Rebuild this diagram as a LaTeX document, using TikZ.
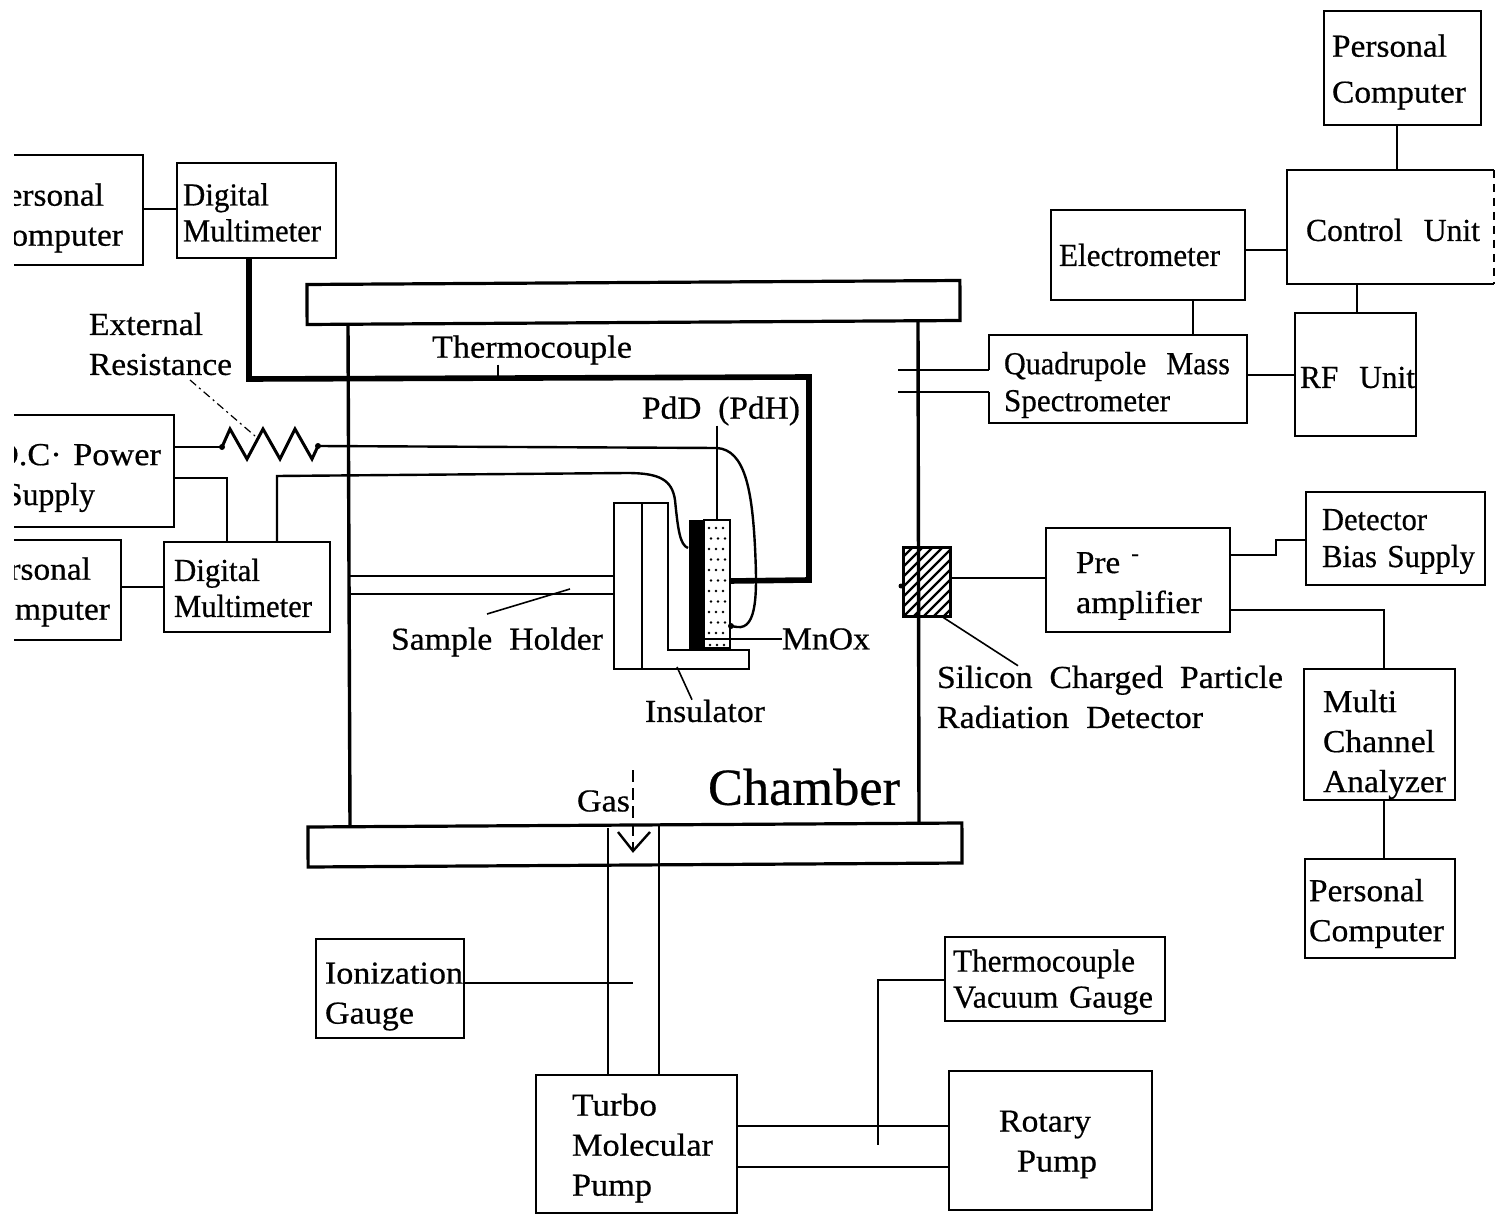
\documentclass[tikz,border=0pt]{standalone}
\usepackage{fontspec}
\usepackage{graphicx}
\setmainfont{Liberation Serif}[FakeBold=0.5]
\newdimen\pxu \pxu=0.5pt
\newcommand\bsh{0pt}
\newcommand\tw[2]{\raisebox{\bsh}[\height][\depth]{\resizebox{#1\pxu}{\height}{#2}}}
\newcommand\bxn[8][]{%
  \pgfmathsetmacro\bxw{#5-#3}\pgfmathsetmacro\bxh{#6-#4}%
  \pgfmathsetmacro\bxcx{(#5+#3)/2}\pgfmathsetmacro\bxcy{(#6+#4)/2}%
  \pgfmathsetmacro\bxtw{\bxw-2*#7}%
  \node[boxn,minimum width=\bxw*0.5pt,minimum height=\bxh*0.5pt,
        text width=\bxtw*0.5pt,inner xsep=#7*0.5pt,#1] (#2) at (\bxcx,\bxcy) {#8};%
}
\tikzset{
  x=0.5pt,y=-0.5pt,
  boxn/.style={draw=black,line width=1.25pt,fill=none,inner ysep=0pt,outer sep=0pt,align=left,
    font=\fontsize{16}{20}\selectfont},
  tsh/.style={execute at begin node={\def\bsh{-#1\pxu}}},
  lab/.style={inner sep=0pt,outer sep=0pt,align=left,font=\fontsize{16}{20}\selectfont},
  wire/.style={draw=black,line width=1.2pt,line join=miter},
  tube/.style={draw=black,line width=1.7pt},
  heavy/.style={draw=black,line width=2.8pt,line join=miter},
  tick/.style={draw=black,line width=0.8pt},
}
\begin{document}
\begin{tikzpicture}
\useasboundingbox (0,0) rectangle (1505,1214);
% clipped boxes at the left edge
\begin{scope}
\clip (14,0) rectangle (1505,1214);
\bxn[tsh=8]{pca}{-20}{155}{143}{265}{9}{\tw{115}{Personal}\\\tw{134}{Computer}}
\bxn[tsh=7]{dcp}{-30}{415}{174}{527}{24}{\tw{167}{D.C{\textperiodcentered} Power}\\\hspace*{11\pxu}\tw{90}{Supply}}
\bxn[tsh=2]{pcb}{-40}{540}{121}{640}{16}{\tw{115}{Personal}\\\tw{134}{Computer}}
\end{scope}
% left instruments
\bxn[tsh=2,font=\fontsize{16}{18}\selectfont]{dma}{177}{163}{336}{258}{6}{\tw{86}{Digital}\\\tw{138}{Multimeter}}
\bxn[tsh=1,font=\fontsize{16}{18}\selectfont]{dmb}{164}{542}{330}{632}{10}{\tw{86}{Digital}\\\tw{138}{Multimeter}}
% right instruments
\bxn[tsh=4,font=\fontsize{16}{23}\selectfont]{pcc}{1324}{11}{1481}{125}{8}{\tw{115}{Personal}\\\tw{134}{Computer}}
\bxn[tsh=3,draw=none]{ctl}{1287}{170}{1494}{284}{19}{\tw{174}{Control\ \ Unit}}
\draw[line width=1.25pt] (ctl.north east) -- (ctl.north west) -- (ctl.south west) -- (ctl.south east);
\draw[line width=0.9pt,dash pattern=on 4pt off 3pt] (ctl.north east) -- (ctl.south east);
\bxn{ele}{1051}{210}{1245}{300}{8}{\tw{161}{Electrometer}}
\bxn[tsh=3]{rfu}{1295}{313}{1416}{436}{5}{\tw{115}{RF\ \ Unit}}
\bxn[tsh=6]{pre}{1046}{528}{1230}{632}{30}{\tw{64}{Pre\ \textsuperscript{-}}\\\tw{126}{amplifier}}
\bxn[tsh=3,font=\fontsize{16}{18.5}\selectfont]{det}{1306}{492}{1485}{585}{16}{\tw{105}{Detector}\\\tw{153}{Bias Supply}}
\bxn[tsh=10]{mca}{1304}{669}{1455}{800}{19}{\tw{74}{Multi}\\\tw{112}{Channel}\\\tw{123}{Analyzer}}
\bxn[tsh=5]{pcd}{1305}{859}{1455}{958}{4}{\tw{115}{Personal}\\\tw{135}{Computer}}
\bxn[tsh=3,font=\fontsize{16}{18}\selectfont]{tvg}{945}{937}{1165}{1021}{8}{\tw{182}{Thermocouple}\\\tw{200}{Vacuum Gauge}}
\bxn[tsh=4]{rot}{949}{1071}{1152}{1210}{50}{\tw{92}{Rotary}\\\hspace*{18\pxu}\tw{80}{Pump}}
\bxn[tsh=4]{tmp}{536}{1075}{737}{1213}{36}{\tw{85}{Turbo}\\\tw{141}{Molecular}\\\tw{80}{Pump}}
\bxn[tsh=8]{ion}{316}{939}{464}{1038}{9}{\tw{138}{Ionization}\\\tw{89}{Gauge}}
% quadrupole: left edge interrupted by the tube
\node[lab,tsh=6,minimum width=258*0.5pt,minimum height=88*0.5pt,text width=228*0.5pt,font=\fontsize{16}{18.5}\selectfont] (qms) at (1118,379)
  {\tw{226}{Quadrupole\ \ Mass}\\\tw{166}{Spectrometer}};
\draw[wire,line width=1.25pt] (qms.west |- 0,370) -- (qms.north west) -- (qms.north east) -- (qms.south east) -- (qms.south west) -- (qms.west |- 0,392);
% chamber plates
\node[draw=black,line width=1.6pt,minimum width=653*0.5pt,minimum height=40*0.5pt,rotate=0.35,inner sep=0pt,outer sep=0pt] (top) at (633.5,302.5) {};
\node[draw=black,line width=1.6pt,minimum width=654*0.5pt,minimum height=40*0.5pt,rotate=0.35,inner sep=0pt,outer sep=0pt] (bot) at (635,845) {};
\coordinate (lwa) at (348,324); \coordinate (lwb) at (350,826);
\coordinate (rwa) at (918,321); \coordinate (rwb) at (919,822);
\draw[tube] (lwa) -- (lwb);
\draw[tube] (rwa) -- (rwb);
% tube lines to the QMS
\coordinate (qa) at (898,370); \coordinate (qb) at (898,392);
\draw[wire] (qa) -- (qms.west |- 0,370);
\draw[wire] (qb) -- (qms.west |- 0,392);
% sample holder
\draw[wire] (614,503) -- (668,503) -- (668,650) -- (749,650) -- (749,669) -- (614,669) -- cycle;
\coordinate (hda) at (642,503); \coordinate (hdb) at (642,669);
\draw[wire] (hda) -- (hdb);
\coordinate (hwa) at (614,576); \coordinate (hwb) at (614,594);
\draw[wire] (hwa) -- (350,576);
\draw[wire] (hwb) -- (350,594);
% sample
\fill[black] (689,520) rectangle (704,650);
\node[draw=black,line width=1.2pt,minimum width=26*0.5pt,minimum height=128*0.5pt,inner sep=0pt,outer sep=0pt] (pdd) at (717,584) {};
\foreach \r in {0,...,10}{
  \pgfmathsetmacro\yy{528+\r*10.5}
  \foreach \c in {0,1,2}{
    \pgfmathsetmacro\xx{709+\c*7+mod(\r,2)*2}
    \fill[black] (\xx,\yy) circle[radius=1.4];
  }
}
\foreach \c in {0,1,2}{\pgfmathsetmacro\xx{710+\c*7}\fill[black] (\xx,645) circle[radius=1.4];}
\coordinate (mxa) at (704,639); \coordinate (mxb) at (730,639);
\draw[wire,line width=0.9pt] (mxa) -- (mxb);
\node[lab,anchor=west] (mnox) at (782,639) {\tw{88}{MnOx}};
\draw[wire,line width=0.9pt] (mxb) -- (mnox.west);
% heavy thermocouple wire
\draw[heavy] (dma.south -| 249,0) -- (249,379) -- (809,377) -- (809,580) -- (pdd.east |- 0,581);
% labels
\node[lab,anchor=west] (tcl) at (432,350) {\tw{200}{Thermocouple}};
\coordinate (tcb) at (498,378);
\draw[wire,line width=0.9pt] (tcl.south -| 498,0) -- (tcb);
\node[lab,anchor=west] (pdl) at (642,411) {\tw{158}{PdD\ \ (PdH)}};
\draw[wire,line width=0.9pt] (pdl.south -| 717,0) -- (pdd.north -| 717,0);
\node[lab,anchor=west] (ext) at (89,344) {\tw{114}{External}\\\tw{143}{Resistance}};
\node[lab,anchor=west] (shl) at (391,642) {\tw{212}{Sample\ \ Holder}};
\coordinate (sha) at (487,614); \coordinate (shb) at (570,589);
\draw[tick] (sha) -- (shb);
\node[lab,anchor=west] (ins) at (645,711) {\tw{120}{Insulator}};
\draw[tick] (677,667) -- (ins.north -| 692,0);
\node[lab,anchor=west,font=\fontsize{26}{30}\selectfont] (chm) at (708,787) {\tw{192}{Chamber}};
\node[lab,anchor=west] (gas) at (577,801) {\tw{53}{Gas}};
\node[lab,anchor=west] (sil) at (937,697) {\tw{346}{Silicon\ \ Charged\ \ Particle}\\\tw{266}{Radiation\ \ Detector}};
% resistor
\coordinate (ra) at (222,447); \coordinate (rb) at (318,446);
\draw[wire,line width=1.5pt,line join=miter] (ra) -- (230,429) -- (247,459) -- (263,429) -- (280,459) -- (295,429) -- (312,459) -- (rb);
\fill (ra) circle[radius=3]; \fill (rb) circle[radius=3];
\draw[tick,line width=0.6pt,dash pattern=on 4pt off 2pt on 1pt off 2pt] (190,380) -- (255,436);
\draw[wire] (dcp.east |- ra) -- (ra);
\coordinate (wpd) at (731,626);
\draw[wire] (rb) -- (717,448) .. controls (745,450) and (752,490) .. (755,547) .. controls (757,590) and (758,630) .. (737,627) -- (wpd);
\fill (wpd) circle[radius=3];
\coordinate (wbk) at (688,548);
\draw[wire] (dmb.north -| 277,0) -- (277,476) -- (627,473) .. controls (660,473) and (672,480) .. (675,500) .. controls (678,530) and (680,545) .. (wbk);
\draw[wire] (dcp.east |- 0,478) -- (227,478) -- (dmb.north -| 227,0);
% links
\draw[wire] (pca.east |- 0,209) -- (dma.west |- 0,209);
\draw[wire] (pcb.east |- 0,587) -- (dmb.west |- 0,587);
\draw[wire] (pcc.south -| 1397,0) -- (ctl.north -| 1397,0);
\draw[wire] (ctl.south -| 1357,0) -- (rfu.north -| 1357,0);
\draw[wire] (ele.east |- 0,250) -- (ctl.west |- 0,250);
\draw[wire] (ele.south -| 1193,0) -- (qms.north -| 1193,0);
\draw[wire] (qms.east |- 0,375) -- (rfu.west |- 0,375);
\draw[wire] (pre.east |- 0,555) -- (1276,555) -- (1276,540) -- (det.west |- 0,540);
\draw[wire] (pre.east |- 0,610) -- (1384,610) -- (mca.north -| 1384,0);
\draw[wire] (mca.south -| 1384,0) -- (pcd.north -| 1384,0);
% detector
\node[draw=black,line width=1.5pt,minimum width=47*0.5pt,minimum height=69*0.5pt,inner sep=0pt,outer sep=0pt] (sid) at (926.5,581.5) {};
\begin{scope}
\clip (903,547) rectangle (950,616);
\foreach \xs in {820,830,...,960}{
  \pgfmathsetmacro\xe{\xs+80}
  \draw[black,line width=1.1pt] (\xs,620) -- (\xe,540);
}
\end{scope}
\fill (901,586) circle[radius=2.5];
\draw[wire] (sid.east |- 0,578) -- (pre.west |- 0,578);
\draw[tick] (941,616) -- (sil.north -| 1018,0);
% gas inlet and pump line
\coordinate (tla) at (608,828); \coordinate (tra) at (659,826);
\draw[wire,line width=1.3pt] (tla) -- (tmp.north -| 608,0);
\draw[wire,line width=1.3pt] (tra) -- (tmp.north -| 659,0);
\coordinate (gsa) at (633,770); \coordinate (gsb) at (633,851);
\draw[wire,line width=1.3pt,dash pattern=on 6pt off 3pt] (gsa) -- (gsb);
\draw[wire] (618,832) -- (gsb) -- (650,832);
\coordinate (ioe) at (633,983);
\draw[wire] (ion.east |- ioe) -- (ioe);
\draw[wire] (tmp.east |- 0,1126) -- (rot.west |- 0,1126);
\draw[wire] (tmp.east |- 0,1167) -- (rot.west |- 0,1167);
\coordinate (tvb) at (878,1145);
\draw[wire] (tvg.west |- 0,980) -- (878,980) -- (tvb);
\end{tikzpicture}
\end{document}
